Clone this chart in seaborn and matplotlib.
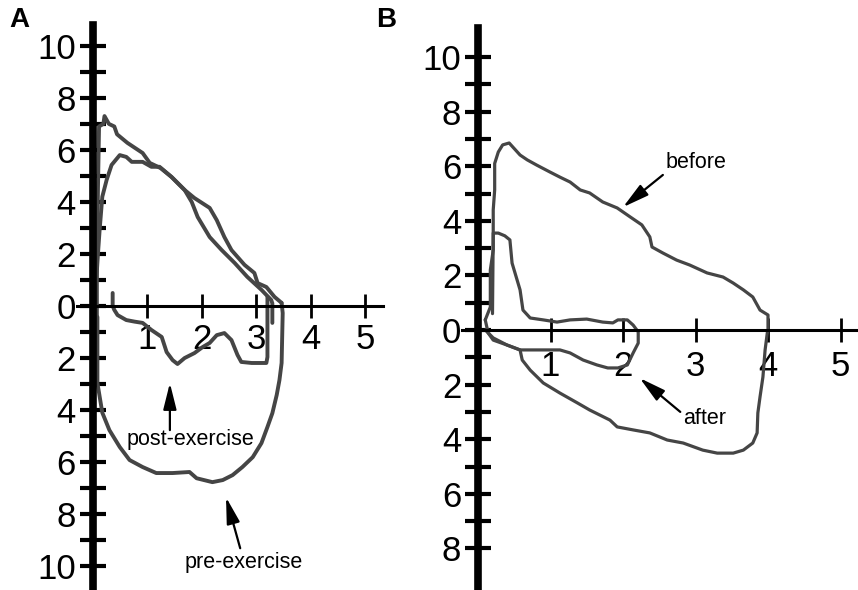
import numpy as np
import matplotlib
matplotlib.use('Agg')
import matplotlib.pyplot as plt
import seaborn as sns

# ---- panel A: flow-volume loops before / after exercise ----
a_pre_exp_x = [0.08, 0.08, 0.10, 0.12, 0.20, 0.22, 0.30, 0.40, 0.45, 0.64, 0.92, 1.05, 1.25, 1.45,
               1.69, 1.87, 2.15, 2.28, 2.42, 2.55, 2.79, 2.97, 3.03, 3.19, 3.34, 3.47]
a_pre_exp_y = [-0.4, 1.5, 4.5, 6.9, 7.0, 7.3, 7.0, 6.9, 6.6, 6.27, 5.88, 5.5, 5.3, 4.96,
               4.46, 4.15, 3.77, 3.3, 2.65, 2.15, 1.58, 1.27, 0.88, 0.73, 0.35, 0.12]
a_pre_insp_x = [3.47, 3.49, 3.47, 3.43, 3.38, 3.30, 3.21, 3.10, 2.94, 2.75, 2.57, 2.39, 2.20, 1.91,
                1.78, 1.47, 1.17, 0.92, 0.68, 0.50, 0.31, 0.18, 0.09, 0.09]
a_pre_insp_y = [0.12, -0.27, -2.19, -2.85, -3.42, -4.12, -4.65, -5.27, -5.81, -6.19, -6.50, -6.69, -6.77, -6.62,
                -6.38, -6.42, -6.42, -6.19, -5.92, -5.42, -4.77, -4.10, -2.96, -0.42]
a_post_exp_x = [0.07, 0.10, 0.13, 0.18, 0.26, 0.35, 0.50, 0.62, 0.72, 0.92, 1.08, 1.23, 1.45, 1.69,
                1.82, 1.93, 2.15, 2.37, 2.61, 2.84, 3.10, 3.28, 3.30, 3.30]
a_post_exp_y = [1.0, 2.0, 2.9, 4.2, 4.85, 5.42, 5.8, 5.73, 5.54, 5.54, 5.35, 5.35, 4.96, 4.46,
                4.0, 3.42, 2.65, 2.15, 1.65, 1.12, 0.62, 0.23, 0.1, -0.65]
a_post_insp_x = [0.37, 0.37, 0.40, 0.46, 0.62, 0.77, 0.92, 1.08, 1.27, 1.36, 1.47, 1.56, 1.69, 1.87,
                 2.02, 2.15, 2.28, 2.42, 2.55, 2.66, 2.73, 2.92, 3.19, 3.21, 3.21]
a_post_insp_y = [0.5, 0.0, -0.15, -0.35, -0.54, -0.60, -0.65, -0.92, -1.19, -1.77, -2.08, -2.23, -2.00, -1.81,
                 -1.58, -1.42, -1.12, -1.04, -1.31, -1.88, -2.15, -2.19, -2.19, -1.96, 0.35]

# ---- panel B ----
b_before_x = [0.10, 0.17, 0.17, 0.21, 0.21, 0.23, 0.23, 0.28, 0.34, 0.43, 0.58, 0.68, 0.81, 0.99,
              1.13, 1.27, 1.41, 1.54, 1.72, 1.92, 2.10, 2.26, 2.37, 2.40, 2.55, 2.74, 2.92, 3.16,
              3.38, 3.52, 3.66, 3.79, 3.89, 4.00, 4.00,
              3.99, 3.96, 3.93, 3.89, 3.86, 3.85, 3.79, 3.66, 3.52, 3.30, 3.10, 2.83, 2.61, 2.37,
              2.14, 1.92, 1.82, 1.54, 1.37, 1.13, 0.90, 0.72, 0.61, 0.58, 0.40, 0.21, 0.14, 0.10]
b_before_y = [0.37, 0.84, 2.20, 2.93, 4.40, 5.13, 6.10, 6.52, 6.78, 6.85, 6.41, 6.23, 6.04, 5.79,
              5.60, 5.42, 5.13, 5.02, 4.69, 4.47, 4.14, 3.85, 3.41, 3.04, 2.82, 2.56, 2.38, 2.09,
              1.94, 1.72, 1.47, 1.21, 0.73, 0.55, 0.0,
              -0.11, -0.73, -1.72, -2.45, -3.04, -3.77, -4.14, -4.40, -4.51, -4.51, -4.40, -4.14, -4.03, -3.77,
              -3.66, -3.55, -3.30, -2.93, -2.67, -2.31, -1.94, -1.47, -1.10, -0.73, -0.55, -0.37, -0.11, 0.37]
b_after_x = [0.20, 0.21, 0.28, 0.37, 0.44, 0.47, 0.58, 0.62, 0.72, 0.90, 1.09, 1.27, 1.50, 1.72,
             1.86, 1.93, 2.06, 2.14, 2.21, 2.21, 2.14, 2.06, 1.93, 1.79, 1.64, 1.45, 1.27, 1.13,
             0.81, 0.58, 0.40, 0.21, 0.10]
b_after_y = [0.6, 3.55, 3.55, 3.45, 3.30, 2.45, 1.47, 0.73, 0.44, 0.37, 0.29, 0.37, 0.40, 0.29,
             0.26, 0.37, 0.37, 0.18, -0.07, -0.48, -0.84, -1.28, -1.39, -1.39, -1.28, -1.10, -0.84, -0.73,
             -0.73, -0.73, -0.55, -0.29, 0.0]

a_yticks = list(range(-10, 11))
b_yticks = list(range(-8, 11))
x_ticks = [1, 2, 3, 4, 5]

sns.set_style('white', {'axes.edgecolor': 'black', 'text.color': 'black',
                        'xtick.color': 'black', 'ytick.color': 'black',
                        'xtick.bottom': True, 'ytick.left': True})
plt.rcParams['font.family'] = ['Liberation Sans', 'DejaVu Sans']

line_col = '#454545'
W, H = 858, 590
fig = plt.figure(figsize=(W / 100, H / 100), dpi=100)


def px_axes(l, r, t, b):
    return fig.add_axes([l / W, 1 - b / H, (r - l) / W, (b - t) / H])


def style_axes(ax, yticks, ylw, yw, xpad):
    sns.despine(ax=ax)
    ax.spines['left'].set_position('zero')
    ax.spines['bottom'].set_position('zero')
    ax.spines['left'].set_linewidth(ylw)
    ax.spines['bottom'].set_linewidth(2.2)
    ax.set_yticks(yticks)
    ax.set_yticklabels([str(abs(v)) if v % 2 == 0 else '' for v in yticks])
    ax.set_xticks(x_ticks)
    ax.set_xticklabels([str(v) for v in x_ticks])
    ax.tick_params(axis='y', left=True, direction='inout', length=19, width=yw, pad=2.5,
                   labelsize=25, color='black', labelcolor='black')
    ax.tick_params(axis='x', bottom=True, direction='inout', length=17, width=2, pad=xpad,
                   labelsize=25, color='black', labelcolor='black')
    ax.set_xlabel('')
    ax.set_ylabel('')
    ax.set_facecolor('none')


arrow_kw = dict(arrowstyle='-|>,head_length=0.8,head_width=0.2', color='black', lw=1.6,
                mutation_scale=20, shrinkA=0, shrinkB=0)

# panel A
axA = px_axes(77, 383, 25, 587)
axA.set_xlim((77 - 92.5) / 54.5, (383 - 92.5) / 54.5)
axA.set_ylim(-10.8, 10.8)
for xs, ys in [(a_pre_exp_x, a_pre_exp_y), (a_pre_insp_x, a_pre_insp_y),
               (a_post_exp_x, a_post_exp_y), (a_post_insp_x, a_post_insp_y)]:
    sns.lineplot(x=xs, y=ys, sort=False, estimator=None, ax=axA, color=line_col, lw=2.8)
style_axes(axA, a_yticks, 5.5, 3, 3.5)
axA.annotate('', xy=(1.42, -2.96), xytext=(1.42, -4.77), arrowprops=arrow_kw)
axA.text(1.79, -5.15, 'post-exercise', ha='center', va='center', fontsize=15.5)
axA.annotate('', xy=(2.45, -7.35), xytext=(2.71, -9.31), arrowprops=arrow_kw)
axA.text(2.78, -9.85, 'pre-exercise', ha='center', va='center', fontsize=15.5)

# panel B
axB = px_axes(462, 858, 28, 590)
axB.set_xlim((462 - 478) / 72.5, (858 - 478) / 72.5)
axB.set_ylim((330 - 590) / 27.3, (330 - 28) / 27.3)
for xs, ys in [(b_before_x, b_before_y), (b_after_x, b_after_y)]:
    sns.lineplot(x=xs, y=ys, sort=False, estimator=None, ax=axB, color=line_col, lw=2.3)
style_axes(axB, b_yticks, 5.5, 3, 6)
axB.annotate('', xy=(2.0, 4.5), xytext=(2.55, 5.68), arrowprops=arrow_kw)
axB.text(3.01, 6.12, 'before', ha='center', va='center', fontsize=15.5)
axB.annotate('', xy=(2.23, -1.76), xytext=(2.79, -3.0), arrowprops=arrow_kw)
axB.text(3.13, -3.26, 'after', ha='center', va='center', fontsize=15.5)

fig.text(19 / W, 1 - 20 / H, 'A', ha='center', va='center', fontsize=20, fontweight='bold')
fig.text(386 / W, 1 - 20 / H, 'B', ha='center', va='center', fontsize=20, fontweight='bold')

fig.savefig('out.png', dpi=100)
